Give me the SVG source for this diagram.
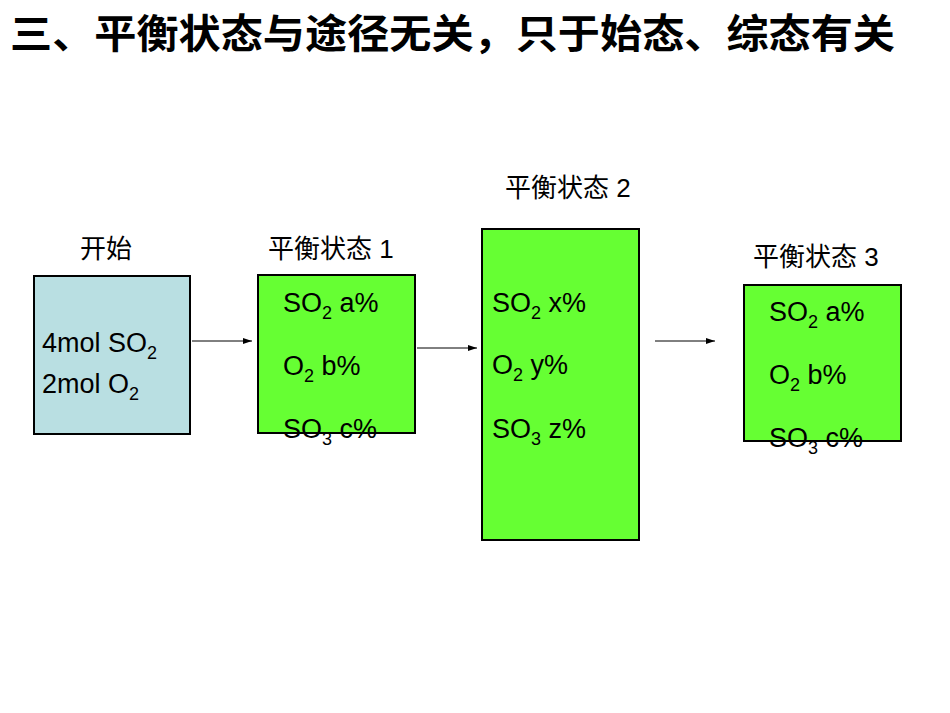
<svg xmlns="http://www.w3.org/2000/svg" width="950" height="713" viewBox="0 0 950 713">
<style>
.t{font-family:"Liberation Sans","Noto Sans CJK SC",sans-serif;font-size:27px;fill:#000}
.h{font-family:"Liberation Sans","Noto Sans CJK SC",sans-serif;font-size:26px;fill:#000}
.b{stroke:#000;stroke-width:2}
.g{fill:#66ff33}
.c{stroke:#000;stroke-width:1;fill:none;marker-end:url(#a)}
</style>
<defs><marker id="a" markerWidth="10" markerHeight="8" refX="9" refY="4" orient="auto" markerUnits="userSpaceOnUse"><path d="M0,1 L9,4 L0,7 Z" fill="#000"/></marker></defs>
<rect width="950" height="713" fill="#fff"/>
<text x="10" y="48" font-family="Noto Sans CJK SC,sans-serif" font-size="40" font-weight="bold" textLength="885" lengthAdjust="spacingAndGlyphs">三、平衡状态与途径无关，只于始态、综态有关</text>
<g id="start">
<text class="h" x="80" y="258">开始</text>
<rect class="b" x="34" y="276" width="156" height="158" fill="#b9dfe2"/>
<text class="t" x="42" y="352">4mol SO<tspan font-size="18" dy="7">2</tspan></text>
<text class="t" x="42" y="393">2mol O<tspan font-size="18" dy="7">2</tspan></text>
</g>
<g id="s1">
<text class="h" x="268" y="258">平衡状态 1</text>
<rect class="b g" x="258" y="275" width="157" height="158"/>
<text class="t" x="283" y="312">SO<tspan font-size="18" dy="7">2</tspan><tspan dy="-7"> a%</tspan></text>
<text class="t" x="283" y="375">O<tspan font-size="18" dy="7">2</tspan><tspan dy="-7"> b%</tspan></text>
<text class="t" x="283" y="438">SO<tspan font-size="18" dy="7">3</tspan><tspan dy="-7"> c%</tspan></text>
</g>
<g id="s2">
<text class="h" x="505" y="197">平衡状态 2</text>
<rect class="b g" x="482" y="229" width="157" height="311"/>
<text class="t" x="492" y="312">SO<tspan font-size="18" dy="7">2</tspan><tspan dy="-7"> x%</tspan></text>
<text class="t" x="492" y="374">O<tspan font-size="18" dy="7">2</tspan><tspan dy="-7"> y%</tspan></text>
<text class="t" x="492" y="438">SO<tspan font-size="18" dy="7">3</tspan><tspan dy="-7"> z%</tspan></text>
</g>
<g id="s3">
<text class="h" x="753" y="266">平衡状态 3</text>
<rect class="b g" x="744" y="285" width="157" height="156"/>
<text class="t" x="769" y="321">SO<tspan font-size="18" dy="7">2</tspan><tspan dy="-7"> a%</tspan></text>
<text class="t" x="769" y="384">O<tspan font-size="18" dy="7">2</tspan><tspan dy="-7"> b%</tspan></text>
<text class="t" x="769" y="447">SO<tspan font-size="18" dy="7">3</tspan><tspan dy="-7"> c%</tspan></text>
</g>
<g id="connectors">
<line class="c" x1="192" y1="341" x2="252" y2="341"/>
<line class="c" x1="417" y1="348" x2="477" y2="348"/>
<line class="c" x1="655" y1="341" x2="715" y2="341"/>
</g>
</svg>
